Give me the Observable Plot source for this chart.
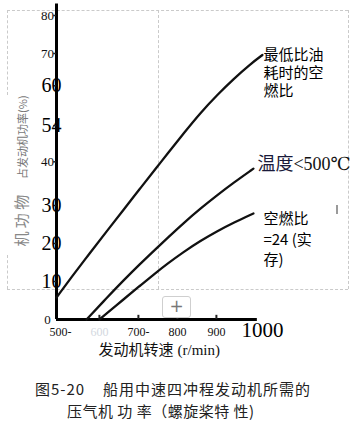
<!DOCTYPE html>
<html><head><meta charset="utf-8">
<script src="https://cdn.jsdelivr.net/npm/d3@7"></script>
<script src="https://cdn.jsdelivr.net/npm/@observablehq/plot@0.6"></script>
<style>
html,body{margin:0;padding:0;background:#fff;}
#wrap{position:relative;width:354px;height:425px;overflow:hidden;font-family:"Noto Sans CJK SC","Noto Sans",sans-serif;}
.dh{position:absolute;height:0;border-top:1px dashed #cacaca;}
.dv{position:absolute;width:0;border-left:1px dashed #cacaca;}
#chart{position:absolute;left:0;top:0;}
.cap{position:absolute;white-space:pre;font-size:15px;color:#222;line-height:15px;}
#btn{position:absolute;left:162px;top:296px;width:27px;height:20px;border:1px solid #cfcfcf;border-radius:3px;background:#fff;color:#777;font-size:17px;line-height:19px;text-align:center;font-family:"DejaVu Sans",sans-serif;}
#bar{position:absolute;left:336px;top:205px;width:2px;height:9px;background:#9a9a9a;}
</style></head><body>
<div id="wrap">
  <div class="dh" style="left:7px;top:10px;width:341px"></div>
  <div class="dh" style="left:7px;top:289px;width:341px"></div>
  <div class="dv" style="left:7px;top:10px;height:85px"></div>
  <div class="dv" style="left:7px;top:255px;height:34px"></div>
  <div class="dv" style="left:158px;top:10px;height:279px"></div>
  <div class="dv" style="left:348px;top:10px;height:279px"></div>
  <div id="chart"></div>
  <div id="btn">+</div>
  <div id="bar"></div>
  <div class="cap" style="left:35px;top:381px;letter-spacing:1px">图5-20</div>
  <div class="cap" style="left:103px;top:381px;letter-spacing:1px">船用中速四冲程发动机所需的</div>
  <div class="cap" style="left:67px;top:403px;letter-spacing:0.5px">压气机 功 率（螺旋桨特 性)</div>
</div>
<script>
// ---- data ----
const xTicks = [500, 600, 700, 800, 900, 1000];
const xTickLabels = ["500-", "600", "700-", "800", "900", "1000"];
const yTicks = [0, 10, 20, 30, 41.5, 51, 61.5, 70, 80];
const yTickLabels = ["0", "10", "20", "30", "40", "54", "60", "70", "80"];

const seriesNames = ["最低比油耗时的空燃比", "温度<500℃", "空燃比=24"];
const rpmMinBsfc = [490, 534, 575, 618, 662, 703, 746, 772, 816, 859, 903, 944, 987, 1018];
const pctMinBsfc = [5.8, 11.9, 17.4, 23.1, 28.9, 34.3, 39.9, 43.3, 49.0, 54.4, 59.2, 63.3, 67.2, 69.6];
const rpmTemp = [567, 618, 662, 703, 746, 775, 816, 859, 903, 944, 995];
const pctTemp = [0, 5.6, 10.3, 14.5, 18.7, 21.5, 25.4, 29.2, 32.8, 36.0, 39.7];
const rpmAfr = [600, 662, 703, 746, 772, 816, 859, 903, 944, 995];
const pctAfr = [0, 5.3, 8.8, 12.4, 14.5, 17.8, 20.7, 23.3, 25.5, 27.9];

const curveLabelTop = "最低比油\n耗时的空\n燃比";
const curveLabelMidA = "温度";
const curveLabelMidB = "<500℃";
const curveLabelBot = "空燃比\n=24 (实\n存)";
const yTitleA = "机 功 物";
const yTitleB = "占发动机功率(%)";
const xTitleA = "发动机转速";
const xTitleB = "(r/min)";

// ---- build tables ----
const seriesRpm = [rpmMinBsfc, rpmTemp, rpmAfr];
const seriesPct = [pctMinBsfc, pctTemp, pctAfr];
const rows = seriesNames.flatMap((name, i) =>
  seriesRpm[i].map((r, j) => ({name, rpm: r, pct: seriesPct[i][j]})));
const ends = seriesNames.map((name, i) => ({name, rpm: seriesRpm[i].at(-1), pct: seriesPct[i].at(-1)}));
const xt = xTicks.map((v, i) => ({v, label: xTickLabels[i]}));
const yt = yTicks.map((v, i) => ({v, label: yTickLabels[i]}));

const serif = "Liberation Serif, DejaVu Serif, serif";
const sans = "Noto Sans CJK SC, Noto Sans, sans-serif";
const bigY = new Set(["10", "20", "30", "54", "60"]);
const xMin = 490, xMax = 1030, yMax = 83;

const chart = Plot.plot({
  width: 354, height: 370,
  marginLeft: 56, marginRight: 87.4, marginTop: 3.6, marginBottom: 51,
  x: {domain: [xMin, xMax], axis: null},
  y: {domain: [0, yMax], axis: null},
  style: {background: "transparent", overflow: "visible"},
  marks: [
    Plot.ruleX([xMin], {y1: 0, y2: yMax, stroke: "#000", strokeWidth: 3}),
    Plot.ruleY([0], {x1: xMin, x2: 1005, stroke: "#000", strokeWidth: 3}),
    Plot.ruleX(xTicks.slice(1, 5), {y1: 0, y2: 1.1, stroke: "#222", strokeWidth: 2}),
    Plot.ruleY(yTicks.slice(1), {x1: xMin - 7, x2: xMin, stroke: "#222", strokeWidth: 1.5}),
    Plot.line(rows, {x: "rpm", y: "pct", z: "name", curve: "basis", stroke: "#111", strokeWidth: 2.3}),
    // y tick labels
    Plot.text(yt.filter(d => bigY.has(d.label)), {x: xMin, y: "v", text: "label", textAnchor: "middle", dx: -5, fontSize: 20, fontFamily: serif, fill: "#000"}),
    Plot.text(yt.filter(d => !bigY.has(d.label)), {x: xMin, y: "v", text: "label", textAnchor: "middle", dx: -9, fontSize: 13, fontFamily: serif, fill: "#111"}),
    // x tick labels
    Plot.text(xt.filter(d => d.label === "1000"), {x: "v", y: 0, text: "label", dx: 7, dy: 11, fontSize: 21, fontFamily: serif, fill: "#000"}),
    Plot.text(xt.filter(d => d.label === "600"), {x: "v", y: 0, text: "label", dy: 13, fontSize: 12, fontFamily: serif, fill: "#d3d8e0"}),
    Plot.text(xt.filter(d => d.label !== "1000" && d.label !== "600"), {x: "v", y: 0, text: "label", dy: 13, fontSize: 12, fontFamily: serif, fill: "#111"}),
    // axis titles
    Plot.text([yTitleA], {frameAnchor: "left", y: 26, dx: -34, rotate: -90, textAnchor: "middle", fontSize: 15, fontFamily: sans, fill: "#888"}),
    Plot.text([yTitleB], {frameAnchor: "left", y: 48, dx: -33, rotate: -90, textAnchor: "middle", fontSize: 11, fontFamily: sans, fill: "#777"}),
    Plot.text([xTitleA], {frameAnchor: "bottom-left", dx: 117, dy: 35, textAnchor: "end", fontSize: 15, fontFamily: sans, fill: "#111"}),
    Plot.text([xTitleB], {frameAnchor: "bottom-left", dx: 121, dy: 35, textAnchor: "start", fontSize: 15, fontFamily: serif, fill: "#111"}),
    // curve labels
    Plot.text([ends[0]], {x: "rpm", y: "pct", text: () => curveLabelTop, textAnchor: "start", lineAnchor: "top", dx: 1, dy: -7.5, lineHeight: 1.2, fontSize: 15, fontFamily: sans, fill: "#000"}),
    Plot.text([ends[1]], {x: "rpm", y: "pct", text: () => curveLabelMidA, textAnchor: "start", dx: 4, dy: -4, fontSize: 18, fontFamily: sans, fill: "#1a1a3a"}),
    Plot.text([ends[1]], {x: "rpm", y: "pct", text: () => curveLabelMidB, textAnchor: "start", dx: 40, dy: -4, fontSize: 18, fontFamily: serif, fill: "#111"}),
    Plot.text([ends[2]], {x: "rpm", y: "pct", text: () => curveLabelBot, textAnchor: "start", lineAnchor: "top", dx: 10, dy: -4, lineHeight: 1.37, fontSize: 15, fontFamily: sans, fill: "#000"})
  ]
});
document.getElementById("chart").appendChild(chart);
</script>
</body></html>
